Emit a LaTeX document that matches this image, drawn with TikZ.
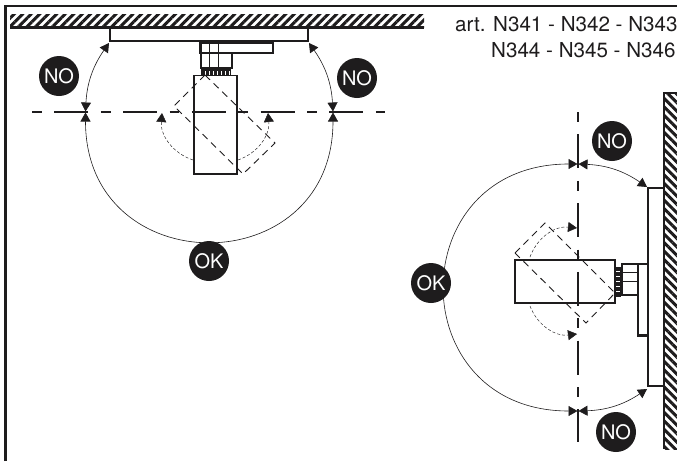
\documentclass[tikz,border=0pt]{standalone}
\usepackage{fontspec}
\setmainfont{TeX Gyre Heros}
\usetikzlibrary{positioning,arrows.meta,patterns.meta}
\definecolor{ink}{HTML}{1E1C1D}
\tikzset{
	axis/.style={>={Triangle[length=9pt,width=10pt]},line width=0.6pt,color=ink},
	badge/.style={circle,fill=ink,text=white,inner sep=0pt,minimum size=40pt,font=\fontsize{20}{20}\selectfont},
	artlabel/.style={text=ink,inner sep=0pt,font=\fontsize{20.6}{21}\selectfont},
	swing/.style={axis,densely dashed,line width=0.45pt},
	ghost/.style={draw=ink,line width=0.9pt,dash pattern=on 7pt off 5pt},
	centerline/.style={draw=ink,line width=1.1pt,dash pattern=on 9.75pt off 12.5pt on 34pt off 12.5pt},
	body/.style={draw=ink,line width=1.1pt},
	heavy/.style={draw=ink,line width=2.2pt},
	ceilinghatch/.style={pattern={Lines[angle=45,distance=6pt,line width=3pt]},pattern color=ink},
	wallhatch/.style={pattern={Lines[angle=-45,distance=6pt,line width=3pt]},pattern color=ink}
}
\begin{document}
\begin{tikzpicture}[x=1pt,y=-1pt]
	\useasboundingbox (0,0) rectangle (677,461);
	
	% frame
	\draw[draw=ink,line width=2.4pt] (5.5,461) -- (5.5,6) -- (677,6);
	
	% ceiling and wall
	\fill[ceilinghatch] (10,14) rectangle (424,27);
	\draw[heavy] (10,27.5) -- (424,27.5);
	\fill[wallhatch] (664,93) rectangle (677,449);
	\draw[heavy] (677,93) -- (664,93) -- (664,449);
	
	% upper lamp
	\draw[heavy] (110,28) |- (308,41) -- (308,28);
	\draw[body] (200,43) rectangle (273,53);
	\draw[body,line width=1.6pt] (232,53) -- (232,68) -- (201,68) -- (201,43);
	\draw[body,line width=0.6pt] (209,43) -- (209,68) (218,43) -- (218,68);
	\fill[ink] (201,69) rectangle (231,75);
	\foreach \x in {205,209,...,229}
		\draw[white,line width=0.9pt] (\x,71) -- (\x,74.5);
	\draw[body] (194,75.5) rectangle (237,174);
	\draw[ghost] (205,75) -- (275,143) -- (243,174) -- (174,106) -- cycle;
	
	% right lamp
	\draw[heavy] (664,188) -| (648,386) -- (664,386);
	\draw[body] (622,264) rectangle (638,295);
	\draw[body,line width=0.6pt] (622,272) -- (638,272) (622,281) -- (638,281);
	\draw[body] (638,264) -- (648,264);
	\draw[heavy] (622,295) -- (638,295) -- (638,335.5) -- (648,335.5);
	\fill[ink] (615.5,267) rectangle (621,297);
	\foreach \y in {271,276,...,291}
		\draw[white,line width=0.9pt] (616,\y) -- (620,\y);
	\draw[body] (515,260) rectangle (615,303);
	\draw[ghost] (515,253) -- (545,223) -- (615,293) -- (586,323) -- cycle;
	
	% points
	\coordinate (ctop) at (32,112);
	\coordinate (ctopend) at (385,112);
	\coordinate (cright) at (578,112);
	\coordinate (crightend) at (578,442);
	\coordinate (l) at (85.5,111.5);
	\coordinate (ll) at (85.5,112.5);
	\coordinate (r) at (333,111.5);
	\coordinate (rr) at (333,112.5);
	\coordinate (pl) at (109,43);
	\coordinate (pr) at (309,43);
	\coordinate (t) at (577.5,164);
	\coordinate (tt) at (578.5,164);
	\coordinate (b) at (577.5,411);
	\coordinate (bb) at (578.5,411);
	\coordinate (pt) at (647,187);
	\coordinate (pb) at (647,389);
	\coordinate (sl) at (162,113);
	\coordinate (slend) at (193,160);
	\coordinate (sr) at (268,113);
	\coordinate (srend) at (238,160);
	\coordinate (st) at (577,228);
	\coordinate (stend) at (530,257);
	\coordinate (sb) at (577,334);
	\coordinate (sbend) at (530,306);
	
	\draw[centerline] (ctop) -- (ctopend);
	\draw[centerline] (cright) -- (crightend);
	
	\path[axis,<->] (ll) edge[bend right=90,looseness=1.77] (rr);
	\path[axis,<->] (l) edge[bend left=16] (pl);
	\path[axis,<->] (r) edge[bend right=16] (pr);
	\path[axis,<->] (b) edge[bend left=90,looseness=1.83] (t);
	\path[axis,<->] (tt) edge[bend left=16] (pt);
	\path[axis,<->] (bb) edge[bend right=16] (pb);
	
	\path[swing,->] (slend) edge[bend left=38] (sl);
	\path[swing,->] (srend) edge[bend right=38] (sr);
	\path[swing,->] (stend) edge[bend left=38] (st);
	\path[swing,->] (sbend) edge[bend right=38] (sb);
	
	% badges
	\node[badge] (nol) at (59,76) {NO};
	\node[badge] (nor) at (357,78) {NO};
	\node[badge] (oktop) at (209,261) {OK};
	\node[badge] (okright) at (431,283) {OK};
	\node[badge] (notop) at (612,141) {NO};
	\node[badge] (nobot) at (616,432) {NO};
	
	% text
	\node[artlabel,anchor=base west] (art) at (455,31) {art. N341 - N342 - N343};
	\node[artlabel,anchor=base west] (artb) at (491,57) {N344 - N345 - N346};
	
\end{tikzpicture}
\end{document}
